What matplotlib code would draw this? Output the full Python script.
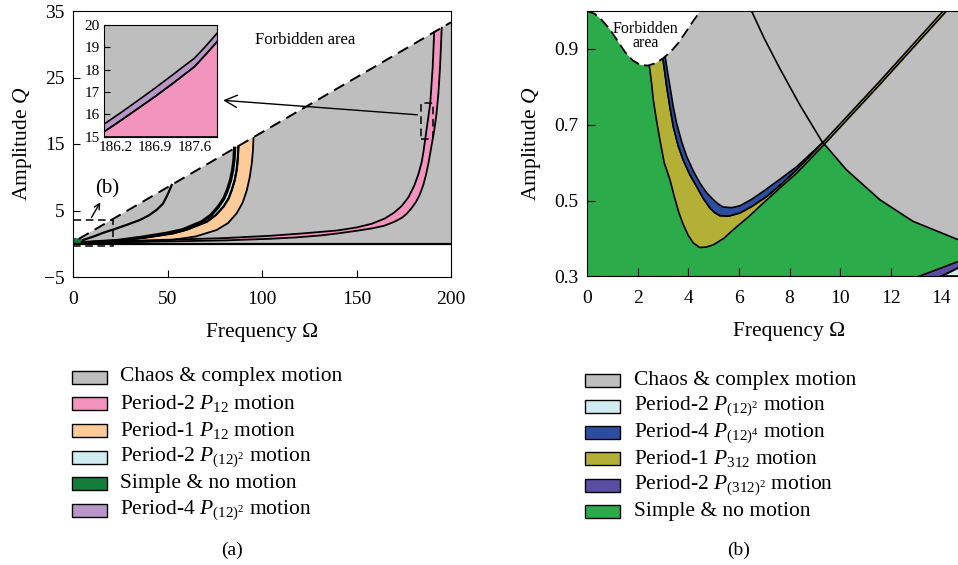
import matplotlib
matplotlib.use('Agg')
import matplotlib.pyplot as plt
from matplotlib.patches import Polygon, Rectangle

plt.rcParams['font.family'] = ['Liberation Serif', 'DejaVu Serif']
plt.rcParams['mathtext.fontset'] = 'custom'
plt.rcParams['mathtext.rm'] = 'Liberation Serif'
plt.rcParams['mathtext.it'] = 'Liberation Serif:italic'
plt.rcParams['mathtext.bf'] = 'Liberation Serif:bold'

GRAY = '#bebebe'

# ---------------- panel (a): Omega 0..200, Q -5..35 ----------------
forbid_a_w = [3, 200]
forbid_a_q = [0.72, 33.3]

green_a_w = [0, 0, 3, 6, 9, 12, 12]
green_a_q = [0, 0.9, 0.8, 0.5, 0.25, 0.1, 0]

# black single curve ending on the boundary near Omega=52
curve_a_w = [5.3, 10.6, 16, 23, 29, 35.4, 40, 44.2, 47.5, 49.5, 51, 52.2]
curve_a_q = [0.56, 1.06, 1.65, 2.3, 2.9, 3.57, 4.25, 5.08, 6.0, 7.07, 8.0, 8.83]

# period-2 P(12)^2 band (light cyan)
cyan_l_w = [5, 10, 23, 37, 49.5, 58, 68.1, 73, 76.9, 79.8, 81.7, 83.3, 84.5, 85.2, 85.5]
cyan_l_q = [0.15, 0.25, 0.46, 1.0, 1.57, 2.1, 3.3, 4.3, 5.57, 6.8, 8.08, 9.5, 11.1, 12.7, 14.35]
cyan_r_w = [5, 12, 26.5, 40, 53, 60, 70.7, 75.5, 79.6, 82.3, 84, 85.5, 86.6, 87.2, 87.5]
cyan_r_q = [0.15, 0.3, 0.56, 1.0, 1.57, 2.1, 3.3, 4.3, 5.57, 6.8, 8.08, 9.5, 11.1, 12.8, 14.6]

# period-1 P12 band (orange), left edge = cyan right edge
orange_r_w = [5, 15, 35, 53, 65, 76, 82, 86.6, 89.8, 92, 93.5, 94.6, 95.2, 95.5]
orange_r_q = [0.1, 0.15, 0.3, 0.6, 1.1, 2.07, 3.1, 4.58, 6.2, 8.08, 10.0, 12.1, 14.0, 15.9]

# period-2 P12 band (pink)
pink_l_w = [8, 25, 50, 80, 104.5, 122.2, 139.9, 150, 158, 165, 170, 174, 177.5, 180.5,
            182.8, 184.5, 185.4, 186.3, 189.0, 190.3, 191.1]
pink_l_q = [0.25, 0.4, 0.6, 0.85, 1.2, 1.57, 2.0, 2.45, 3.0, 3.8, 4.7, 5.7, 7.0, 8.7,
            10.5, 12.3, 13.8, 15.6, 21.1, 26.5, 31.85]
pink_r_w = [8, 25, 50, 80, 104.5, 118, 131, 140, 150, 158, 164.6, 170, 174, 176.5, 179,
            181.5, 183.5, 185.3, 186.8, 188.2, 189.6, 191.1, 192.3, 193.3, 194.2, 195.1]
pink_r_q = [0.2, 0.25, 0.35, 0.5, 0.75, 0.95, 1.25, 1.55, 1.95, 2.3, 2.7, 3.3, 3.9, 4.5, 5.3,
            6.3, 7.4, 8.8, 10.4, 12.3, 14.6, 17.0, 19.5, 22.5, 26.5, 32.5]

# inset: period-4 P(12)^2 band (purple) between Omega 186 and 188
inset_w = [186.0, 186.3, 186.6, 186.9, 187.2, 187.4, 187.6, 187.8, 188.0]
purple_top_q = [15.56, 16.08, 16.62, 17.17, 17.74, 18.13, 18.51, 19.05, 19.63]
purple_bot_q = [15.22, 15.73, 16.26, 16.79, 17.35, 17.74, 18.13, 18.68, 19.25]

# ---------------- panel (b): Omega 0..16, Q 0.3..1.0 ----------------
forbid_b_w = [0, 0.3, 0.6, 0.9, 1.2, 1.5, 1.8, 2.1, 2.4, 2.7, 3.0, 3.3, 3.6, 3.9, 4.2, 4.48]
forbid_b_q = [1.0, 0.993, 0.975, 0.952, 0.922, 0.892, 0.870, 0.858, 0.856, 0.862,
              0.875, 0.892, 0.915, 0.944, 0.974, 1.0]

yel_lo_w = [2.46, 2.55, 2.62, 2.75, 2.88, 3.05, 3.28, 3.45, 3.62, 3.80, 4.0, 4.2, 4.45,
            4.70, 4.99, 5.40, 5.78, 6.40, 6.96, 7.60, 8.28, 9.33, 11.57, 14.2]
yel_lo_q = [0.857, 0.81, 0.765, 0.71, 0.66, 0.60, 0.554, 0.51, 0.47, 0.437, 0.408, 0.388,
            0.376, 0.377, 0.383, 0.400, 0.423, 0.458, 0.493, 0.532, 0.572, 0.645, 0.806, 1.0]
yel_up_w = [2.99, 3.07, 3.15, 3.28, 3.41, 3.60, 3.80, 4.05, 4.33, 4.60, 4.86, 5.05,
            5.25, 5.60, 6.04, 6.50, 7.09, 7.70, 8.28, 9.33, 11.57, 14.07]
yel_up_q = [0.879, 0.84, 0.80, 0.745, 0.695, 0.645, 0.607, 0.570, 0.537, 0.505, 0.48, 0.468,
            0.46, 0.459, 0.467, 0.484, 0.51, 0.545, 0.581, 0.654, 0.815, 1.0]
blue_up_w = [3.08, 3.18, 3.28, 3.40, 3.54, 3.74, 3.94, 4.20, 4.46, 4.72, 4.99, 5.20,
             5.38, 5.70, 6.04, 6.50, 6.96, 7.60, 8.28, 9.33]
blue_up_q = [0.883, 0.84, 0.80, 0.75, 0.704, 0.655, 0.616, 0.578, 0.546, 0.521, 0.502, 0.490,
             0.483, 0.481, 0.486, 0.503, 0.524, 0.555, 0.589, 0.654]

desc_w = [6.5, 7.0, 7.62, 8.41, 9.27, 10.25, 11.57, 12.88, 14.65, 16.0]
desc_q = [1.0, 0.928, 0.848, 0.752, 0.657, 0.581, 0.502, 0.445, 0.397, 0.367]

p312_up_w = [13.12, 14.66, 16.0]
p312_up_q = [0.3, 0.339, 0.373]
p312_lo_w = [14.0, 14.66, 16.0]
p312_lo_q = [0.3, 0.322, 0.366]

legend_a = [('Chaos & complex motion', GRAY),
            (r'Period-2 $P_{12}$ motion', '#f294be'),
            (r'Period-1 $P_{12}$ motion', '#fccb98'),
            (r'Period-2 $P_{(12)^2}$ motion', '#d0ecf0'),
            ('Simple & no motion', '#157d3b'),
            (r'Period-4 $P_{(12)^2}$ motion', '#b996c9')]
legend_b = [('Chaos & complex motion', GRAY),
            (r'Period-2 $P_{(12)^2}$ motion', '#d0ecf0'),
            (r'Period-4 $P_{(12)^4}$ motion', '#2c4da0'),
            (r'Period-1 $P_{312}$ motion', '#b4b036'),
            (r'Period-2 $P_{(312)^2}$ motion', '#5a4ea2'),
            ('Simple & no motion', '#2bab4a')]


def band(ax, w1, q1, w2, q2, color, lw=1.3, z=3, lw1=None):
    pts = list(zip(w1, q1)) + list(zip(w2, q2))[::-1]
    ax.add_patch(Polygon(pts, closed=True, facecolor=color, edgecolor='none', zorder=z))
    ax.plot(w1, q1, color='k', lw=lw1 or lw, zorder=z + 1)
    ax.plot(w2, q2, color='k', lw=lw, zorder=z + 1)


W, H = 958, 565
fig = plt.figure(figsize=(W / 100, H / 100), dpi=100)

# ---- panel (a)
ax = fig.add_axes([73 / W, 1 - 277 / H, 378 / W, 266 / H])
ax.set_xlim(0, 200)
ax.set_ylim(-5, 35)
gray_pts = [(0, 0)] + list(zip(forbid_a_w, forbid_a_q)) + [(200, 0)]
ax.add_patch(Polygon(gray_pts, closed=True, facecolor=GRAY, edgecolor='none', zorder=1))
ax.add_patch(Polygon(list(zip(green_a_w, green_a_q)), closed=True,
                     facecolor=legend_a[4][1], edgecolor='none', zorder=2))
band(ax, pink_l_w, pink_l_q, pink_r_w, pink_r_q, legend_a[1][1])
band(ax, cyan_r_w, cyan_r_q, orange_r_w, orange_r_q, legend_a[2][1])
band(ax, cyan_l_w, cyan_l_q, cyan_r_w, cyan_r_q, legend_a[3][1], lw=1.6, lw1=2.4)
ax.plot(curve_a_w, curve_a_q, color='k', lw=1.6, zorder=4)
ax.plot(forbid_a_w, forbid_a_q, color='k', lw=1.4, ls=(0, (6, 3.5)), zorder=5)
ax.axhline(0, color='k', lw=1.6, zorder=5)
ax.add_patch(Rectangle((0, -0.4), 21.4, 4.0, fill=False, ec='k', lw=1.1,
                       ls=(0, (5, 3)), zorder=6))
ax.add_patch(Rectangle((184.1, 15.8), 6.5, 5.4, fill=False, ec='k', lw=1.1,
                       ls=(0, (5, 3)), zorder=6))
ax.annotate('', xy=(15.2, 6.6), xytext=(9.0, 3.57),
            arrowprops=dict(arrowstyle='->', color='k', lw=1.0), zorder=6)
ax.text(17.9, 8.2, '(b)', fontsize=15, ha='center', va='center', zorder=6)
ax.annotate('', xy=(78, 21.6), xytext=(183.7, 19.36),
            arrowprops=dict(arrowstyle='->', color='k', lw=1.0,
                            mutation_scale=22), zorder=6)
ax.text(123, 30.7, 'Forbidden area', fontsize=12, ha='center', va='center')
ax.set_xticks([0, 50, 100, 150, 200])
ax.set_yticks([-5, 5, 15, 25, 35])
ax.set_yticklabels(['\u22125', '5', '15', '25', '35'])
ax.tick_params(direction='in', length=5, labelsize=14, pad=6)
ax.tick_params(axis='x', pad=10)
ax.set_xlabel('Frequency \u03a9', fontsize=15.5, labelpad=11)
ax.set_ylabel('Amplitude $Q$', fontsize=15.5, labelpad=7)

# ---- inset
axi = fig.add_axes([104 / W, 1 - 136.7 / H, 113 / W, 111.7 / H])
axi.set_facecolor(GRAY)
axi.set_xlim(186.0, 188.0)
axi.set_ylim(15, 20)
bottom = [15] * len(inset_w)
band(axi, inset_w, purple_bot_q, inset_w, bottom, legend_a[1][1], lw=1.2)
band(axi, inset_w, purple_top_q, inset_w, purple_bot_q, legend_a[5][1], lw=1.2)
axi.set_xticks([186.2, 186.9, 187.6])
axi.set_yticks([15, 16, 17, 18, 19, 20])
axi.tick_params(direction='in', length=4, labelsize=11, pad=3)
for s in axi.spines.values():
    s.set_zorder(10)

# ---- panel (b)
bx = fig.add_axes([587 / W, 1 - 276.3 / H, 405 / W, 265.3 / H])
bx.set_xlim(0, 16)
bx.set_ylim(0.3, 1.0)
bx.set_facecolor(legend_b[5][1])
v_top = list(zip(blue_up_w, blue_up_q)) + [(w, q) for w, q in zip(yel_up_w, yel_up_q) if w > blue_up_w[-1]]
v_top += [(w, q) for w, q in zip(forbid_b_w, forbid_b_q) if w > blue_up_w[0]][::-1]
bx.add_patch(Polygon(v_top, closed=True, facecolor=GRAY, edgecolor='none', zorder=1))
desc_pts = list(zip(desc_w, desc_q)) + [(desc_w[-1], 1.0)]
bx.add_patch(Polygon(desc_pts, closed=True, facecolor=GRAY, edgecolor='none', zorder=1))
band(bx, yel_lo_w, yel_lo_q, yel_up_w, yel_up_q, legend_b[3][1], lw=1.2)
blue_lo = [(w, q) for w, q in zip(yel_up_w, yel_up_q) if w <= blue_up_w[-1]]
band(bx, blue_up_w, blue_up_q, [p[0] for p in blue_lo], [p[1] for p in blue_lo],
     legend_b[2][1], lw=1.2, z=5)
bx.plot(desc_w, desc_q, color='k', lw=1.2, zorder=7)
fb = [(0, 1.0)] + list(zip(forbid_b_w, forbid_b_q))
bx.add_patch(Polygon(fb, closed=True, facecolor='white', edgecolor='none', zorder=8))
bx.plot(forbid_b_w, forbid_b_q, color='k', lw=1.3, ls=(0, (6, 3)), zorder=9)
band(bx, p312_up_w, p312_up_q, p312_lo_w, p312_lo_q, legend_b[4][1], lw=1.2, z=5)
band(bx, p312_lo_w, p312_lo_q, [p312_lo_w[0], p312_lo_w[-1]], [0.3, 0.3],
     legend_b[1][1], lw=1.2, z=5)
bx.text(2.3, 0.933, 'Forbidden\narea', fontsize=11.5, ha='center', va='center',
        linespacing=0.85, zorder=10)
bx.set_xticks(range(0, 16, 2))
bx.set_yticks([0.3, 0.5, 0.7, 0.9])
bx.tick_params(direction='in', length=6, labelsize=14, pad=6)
bx.tick_params(axis='x', pad=10)
bx.spines['right'].set_visible(False)
for s in bx.spines.values():
    s.set_zorder(12)
bx.set_xlabel('Frequency \u03a9', fontsize=15.5, labelpad=11)
bx.set_ylabel('Amplitude $Q$', fontsize=15.5, labelpad=8)

# ---- legends drawn by hand
def draw_legend(entries, x0, y0, dy, text_x):
    for i, (lab, col) in enumerate(entries):
        yc = y0 + i * dy
        fig.patches.append(Rectangle((x0 / W, 1 - (yc + 6.5) / H), 35 / W, 13 / H,
                                     transform=fig.transFigure, facecolor=col,
                                     edgecolor='k', lw=1.0))
        fig.text(text_x / W, 1 - yc / H, lab, fontsize=15.5, va='center', ha='left')


draw_legend(legend_a, 72, 377, 26.7, 120)
draw_legend(legend_b, 585, 380, 26.3, 634)
fig.text(232 / W, 1 - 550 / H, '(a)', fontsize=14, ha='center', va='center')
fig.text(739 / W, 1 - 550 / H, '(b)', fontsize=14, ha='center', va='center')

fig.savefig('out.png', dpi=100)
